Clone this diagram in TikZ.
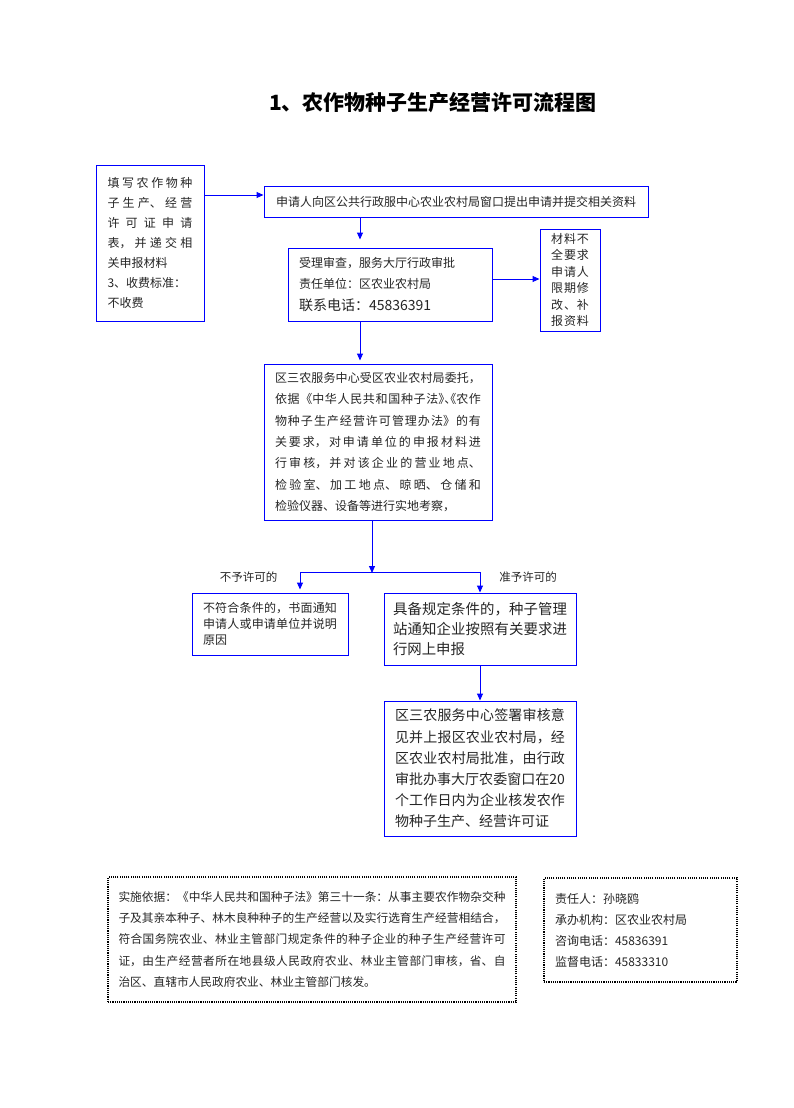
\documentclass[tikz,border=0pt]{standalone}
\usepackage{fontspec}
\setmainfont{Noto Sans CJK SC}
\XeTeXlinebreaklocale "zh"
\XeTeXlinebreakskip=0pt plus 12pt
\usetikzlibrary{arrows.meta}
\begin{document}
\begin{tikzpicture}[x=1pt,y=-1pt,
  box/.style={draw=blue, line width=1pt, inner sep=0pt, align=left, text=black!85},
  jbox/.style={box, align=justify},
  arr/.style={draw=blue, line width=1pt, -{Triangle[length=7pt,width=6pt]}},
  ln/.style={draw=blue, line width=1pt},
  dbox/.style={draw=black, line width=1.3pt, dash pattern=on 1.1pt off 1.1pt, inner sep=0pt, align=left, text=black!85},
  lbl/.style={inner sep=0pt, font=\fontsize{11.5}{12}\selectfont, text=black!85}]
\useasboundingbox[fill=white] (0,0) rectangle (794,1108);

\node[font=\bfseries\fontsize{21}{23}\selectfont, inner sep=0pt] (title) at (433,103) {1、农作物种子生产经营许可流程图};

\node[jbox, minimum width=108pt, minimum height=156pt, text width=85pt,
      font=\fontsize{12}{20}\selectfont] (b1) at (150,243)
 {填写农作物种\linebreak 子生产、经营\linebreak 许可证申请\linebreak 表，并递交相\linebreak 关申报材料\\3、收费标准：\\不收费};

\node[box, minimum width=384pt, minimum height=31pt, align=center,
      font=\fontsize{12}{14}\selectfont] (b2) at (456,201.5)
 {申请人向区公共行政服中心农业农村局窗口提出申请并提交相关资料};

\node[box, minimum width=204pt, minimum height=73pt, text width=182pt,
      font=\fontsize{12}{21.5}\selectfont] (b3) at (390,284.5)
 {受理审查，服务大厅行政审批\\责任单位：区农业农村局\\{\fontsize{14}{21.5}\selectfont 联系电话：45836391}};

\node[box, minimum width=60pt, minimum height=102pt, text width=38pt,
      font=\fontsize{12}{16.4}\selectfont] (b4) at (570,280)
 {\makebox[38pt][s]{材\hfil 料\hfil 不}\\\makebox[38pt][s]{全\hfil 要\hfil 求}\\\makebox[38pt][s]{申\hfil 请\hfil 人}\\\makebox[38pt][s]{限\hfil 期\hfil 修}\\\makebox[38pt][s]{改\hfil 、\hfil 补}\\\makebox[38pt][s]{报\hfil 资\hfil 料}};

\node[jbox, minimum width=228pt, minimum height=156pt, text width=206pt,
      font=\fontsize{12}{21.3}\selectfont] (b5) at (378,442)
 {区三农服务中心受区农业农村局委托，\linebreak 依据《中华人民共和国种子法\makebox[6pt][l]{》}\makebox[6pt][l]{、}\makebox[6pt][r]{《}农作\linebreak 物种子生产经营许可管理办法》的有\linebreak 关要求，对申请单位的申报材料进\linebreak 行审核，并对该企业的营业地点、\linebreak 检验室、加工地点、晾晒、仓储和\linebreak 检验仪器、设备等进行实地考察，};

\node[jbox, minimum width=156pt, minimum height=62pt, text width=134pt,
      font=\fontsize{12}{16.2}\selectfont] (b6) at (270,624)
 {不符合条件的，书面通知\linebreak 申请人或申请单位并说明\linebreak 原因};

\node[jbox, minimum width=192pt, minimum height=72pt, text width=174pt,
      font=\fontsize{14.4}{20}\selectfont] (b7) at (480,629)
 {具备规定条件的，种子管理\linebreak 站通知企业按照有关要求进\linebreak 行网上申报};

\node[jbox, minimum width=192pt, minimum height=135pt, text width=170pt,
      font=\fontsize{14}{21.2}\selectfont] (b8) at (480,768.5)
 {区三农服务中心签署审核意\linebreak 见并上报区农业农村局，经\linebreak 区农业农村局批准，由行政\linebreak 审批办事大厅农委窗口在20\linebreak 个工作日内为企业核发农作\linebreak 物种子生产、经营许可证};

\node[dbox, align=justify, minimum width=408pt, minimum height=125pt, text width=387pt,
      font=\fontsize{11.7}{21.2}\selectfont] (b9) at (312,939.5)
 {实施依据：《中华人民共和国种子法》第三十一条：从事主要农作物杂交种\linebreak 子及其亲本种子、林木良种种子的生产经营以及实行选育生产经营相结合，\linebreak 符合国务院农业、林业主管部门规定条件的种子企业的种子生产经营许可\linebreak 证，由生产经营者所在地县级人民政府农业、林业主管部门审核，省、自\linebreak 治区、直辖市人民政府农业、林业主管部门核发。};

\node[dbox, minimum width=193pt, minimum height=104pt, text width=171pt,
      font=\fontsize{12}{21}\selectfont] (b10) at (640.5,930)
 {责任人：孙晓鸥\\承办机构：区农业农村局\\咨询电话：45836391\\监督电话：45833310};

\node[lbl] (lno) at (248.5,577) {不予许可的};
\node[lbl] (lyes) at (528,577) {准予许可的};

\coordinate (jM) at (372,573);
\coordinate (jL) at (300,572);
\coordinate (jR) at (480,572);

\draw[arr] (b1.east |- 0,195) -- (b2.west |- 0,195);
\draw[arr, shorten >=8pt] (b2.south -| 360,0) -- (b3.north -| 360,0);
\draw[arr] (b3.east |- 0,279) -- (b4.west |- 0,279);
\draw[arr, shorten >=3pt] (b3.south -| 360,0) -- (b5.north -| 360,0);
\draw[arr] (b5.south -| jM) -- (jM);
\draw[ln] (jL) -- (jR);
\draw[arr, shorten >=3pt] (jL) -- (b6.north -| jL);
\draw[arr] (jR) -- (b7.north -| jR);
\draw[arr] (b7.south -| jR) -- (b8.north -| jR);
\end{tikzpicture}
\end{document}
